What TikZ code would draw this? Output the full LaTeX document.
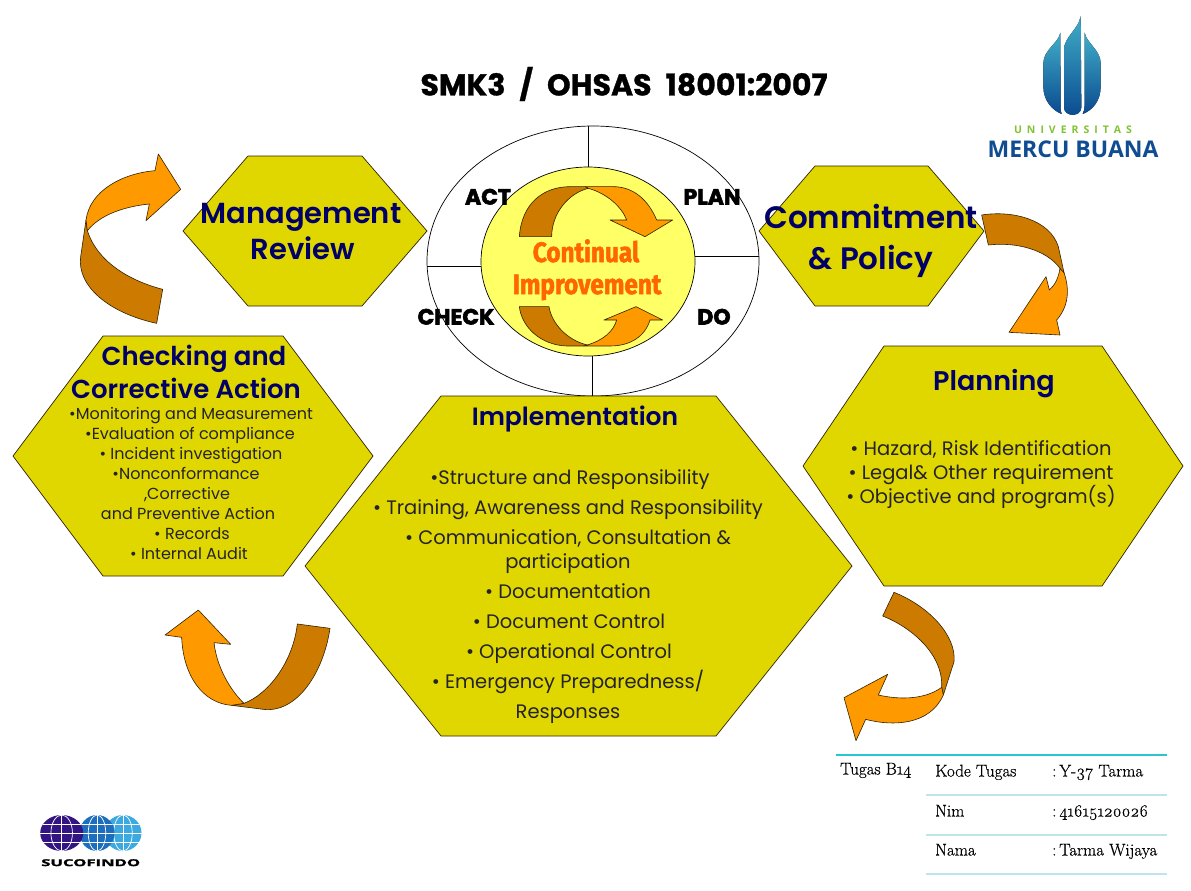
\documentclass[tikz,border=0pt]{standalone}
\usepackage{fontspec}
\usepackage{graphicx}
\setmainfont{Poppins}[BoldFont={Poppins SemiBold}]
\newfontfamily\heavyfont[FakeBold=1,WordSpace=2.2]{Poppins Bold}
\newfontfamily\labelfont[FakeBold=2.5]{Poppins}
\newfontfamily\condfont[FakeBold=2]{Fira Sans}
\newfontfamily\tabfont[Numbers=OldStyle,FakeBold=0.5]{Latin Modern Roman}
\newfontfamily\logofont{Open Sans}
\newfontfamily\sucofont[FakeBold=1.5]{Open Sans}
\newcommand{\fs}[1]{\fontsize{#1}{#1}\selectfont}
\definecolor{hexfill}{RGB}{225,215,0}
\definecolor{navytxt}{RGB}{0,0,102}
\definecolor{listtxt}{RGB}{35,35,40}
\definecolor{orlight}{RGB}{255,153,0}
\definecolor{ordark}{RGB}{204,122,0}
\definecolor{edgec}{RGB}{50,35,0}
\definecolor{innerfill}{RGB}{255,255,102}
\definecolor{impr}{RGB}{255,102,0}
\definecolor{tealrule}{RGB}{43,196,210}
\definecolor{lightrule}{RGB}{189,229,234}
\definecolor{mbtop}{RGB}{64,174,200}
\definecolor{mbbot}{RGB}{10,74,144}
\definecolor{mbtext}{RGB}{15,76,146}
\definecolor{mbgreen}{RGB}{130,195,50}
\tikzset{
  hexshape/.style={draw=edgec,fill=hexfill,line width=.7pt},
  arrowlight/.style={draw=edgec,fill=orlight,line width=.6pt,line join=round},
  arrowdark/.style={draw=edgec,fill=ordark,line width=.6pt,line join=round},
  ringline/.style={draw=black,line width=.7pt},
  headtxt/.style={text=navytxt,inner sep=0pt,text height=18pt,text depth=0pt,font=\bfseries\fs{26}},
  bigtxt/.style={text=navytxt,inner sep=0pt,text height=20pt,text depth=0pt,font=\bfseries\fs{29}},
  listtext/.style={text=listtxt,inner sep=0pt,text height=14pt,text depth=0pt,font=\fs{19.5}},
  smalltext/.style={text=listtxt,inner sep=0pt,text height=11.5pt,text depth=0pt,font=\fs{16}},
  pdcatxt/.style={text=black,inner sep=0pt,text height=15pt,text depth=0pt,font=\labelfont\bfseries\fs{22}},
  imptxt/.style={text=impr,inner sep=0pt,text height=20pt,text depth=0pt,font=\condfont\bfseries\fs{28}},
  tabtxt/.style={text=black,inner sep=0pt,anchor=west,text height=11pt,text depth=0pt,font=\tabfont\fs{17}},
  globeline/.style={draw=white,line width=.7pt},
  mbshape/.style={top color=mbtop,bottom color=mbbot,draw=none},
}
\begin{document}
\begin{tikzpicture}[x=1pt,y=-1pt]
\useasboundingbox (0,0) rectangle (1191,891);
\fill[white] (0,0) rectangle (1191,891);

% title
\node[inner sep=0pt,text=black,font=\heavyfont\fs{30}] (title) at (624,84) {SMK3 / OHSAS 18001:2007};

% ring
\draw[ringline,fill=white] (593,261) ellipse [x radius=166,y radius=135];
\coordinate (ringN) at (588,126); \coordinate (coreN) at (588,167);
\coordinate (ringE) at (759,256); \coordinate (coreE) at (695,256);
\coordinate (ringW) at (427,266); \coordinate (coreW) at (481,266);
\coordinate (ringS) at (592,396); \coordinate (coreS) at (592,356);
\draw[ringline] (ringN) -- (coreN);
\draw[ringline] (ringE) -- (coreE);
\draw[ringline] (ringW) -- (coreW);
\draw[ringline] (ringS) -- (coreS);
\draw[ringline,fill=innerfill] (588,261.5) ellipse [x radius=107,y radius=94.5];

% inner cycle arrows
\begin{scope}[shift={(400,110)},scale=0.33333]
\draw[arrowlight] (565,235) .. controls (620,250) and (665,290) .. (680,330) -- (630,330) -- (735,380) -- (818,330) -- (770,330) .. controls (745,270) and (700,230) .. (640,230) -- (555,230) -- cycle;
\draw[arrowdark] (358,380) -- (455,380) .. controls (455,310) and (505,250) .. (565,235) -- (555,230) -- (510,230) .. controls (430,230) and (365,280) .. (358,380) -- cycle;
\draw[arrowlight] (562,705) .. controls (610,690) and (640,665) .. (650,630) -- (612,630) -- (708,590) -- (788,630) -- (750,630) .. controls (735,680) and (690,708) .. (630,708) -- (550,708) -- cycle;
\draw[arrowdark] (358,590) -- (447,590) .. controls (455,640) and (500,690) .. (562,705) -- (550,708) -- (500,708) .. controls (420,705) and (365,650) .. (358,590) -- cycle;
\end{scope}
\node[imptxt] (cont) at (586,252) {\scalebox{.87}[1]{Continual}};
\node[imptxt] (impv) at (587,284) {\scalebox{.87}[1]{Improvement}};
\node[pdcatxt] (act) at (488,197) {ACT};
\node[pdcatxt] (plan) at (712,197) {PLAN};
\node[pdcatxt] (check) at (456,317) {CHECK};
\node[pdcatxt] (do) at (714,317) {DO};

% hexagons
\draw[hexshape] (183,231) -- (248,156) -- (362,156) -- (427,231) -- (362,306) -- (248,306) -- cycle;
\draw[hexshape] (759,231) -- (815,166) -- (928,166) -- (984,231) -- (928,306) -- (815,306) -- cycle;
\draw[hexshape] (803,466) -- (884,346) -- (1102,346) -- (1183,466) -- (1102,586) -- (884,586) -- cycle;
\draw[hexshape] (305,566) -- (441,396) -- (716,396) -- (852,566) -- (716,736) -- (441,736) -- cycle;
\draw[hexshape] (13,456) -- (103,336) -- (283,336) -- (373,456) -- (283,576) -- (103,576) -- cycle;

% outer arrows
\begin{scope}[shift={(60,140)},scale=0.33333]
\draw[arrowdark] (82,272) .. controls (110,360) and (200,420) .. (308,448) -- (290,550) .. controls (150,520) and (50,440) .. (62,350) -- (78,240) -- cycle;
\draw[arrowlight] (78,240) .. controls (90,150) and (190,100) .. (285,92) -- (295,42) -- (362,148) -- (258,242) -- (268,192) .. controls (190,200) and (120,225) .. (82,272) -- cycle;
\end{scope}
\begin{scope}[shift={(960,200)},scale=0.33333]
\draw[arrowlight] (312,218) .. controls (330,270) and (325,320) .. (290,360) -- (300,405) -- (147,397) -- (258,230) -- (268,270) .. controls (285,255) and (295,235) .. (300,205) -- cycle;
\draw[arrowdark] (65,45) .. controls (160,30) and (270,60) .. (295,140) -- (312,218) -- (300,205) .. controls (260,150) and (170,125) .. (85,135) -- cycle;
\end{scope}
\begin{scope}[shift={(830,580)},scale=0.33333]
\draw[arrowdark] (192,37) .. controls (300,80) and (380,170) .. (372,245) -- (340,345) -- (335,322) .. controls (340,220) and (240,140) .. (158,108) -- cycle;
\draw[arrowlight] (335,322) .. controls (290,355) and (220,362) .. (145,345) -- (173,283) -- (42,353) -- (78,482) -- (107,418) .. controls (190,440) and (300,435) .. (340,345) -- cycle;
\end{scope}
\begin{scope}[shift={(150,600)},scale=0.33333]
\draw[arrowdark] (442,72) -- (540,85) .. controls (520,220) and (440,340) .. (340,328) -- (245,316) -- (282,310) .. controls (360,280) and (430,180) .. (442,72) -- cycle;
\draw[arrowlight] (145,30) -- (242,133) -- (192,128) .. controls (200,200) and (240,270) .. (282,310) -- (245,316) .. controls (160,310) and (100,230) .. (95,112) -- (45,105) -- cycle;
\end{scope}

% hexagon texts
\node[bigtxt] (mr1) at (301,213) {Management};
\node[bigtxt] (mr2) at (303,249) {Review};
\node[bigtxt,font=\bfseries\fs{31},text height=22pt] (cp1) at (871,217) {Commitment};
\node[bigtxt,font=\bfseries\fs{31},text height=22pt] (cp2) at (871,258) {\& Policy};

\node[headtxt,font=\bfseries\fs{27}] (pl0) at (994,381) {Planning};
\node[listtext] (pl1) at (981,448) {• Hazard, Risk Identification};
\node[listtext] (pl2) at (981,472) {• Legal\& Other requirement};
\node[listtext] (pl3) at (981,496) {• Objective and program(s)};

\node[headtxt,font=\bfseries\fs{25}] (im0) at (575,416) {Implementation};
\node[listtext] (im1) at (570,477) {•Structure and Responsibility};
\node[listtext] (im2) at (568,507) {• Training, Awareness and Responsibility};
\node[listtext] (im3) at (568,537) {• Communication, Consultation \&};
\node[listtext] (im4) at (568,561) {participation};
\node[listtext] (im5) at (568,591) {• Documentation};
\node[listtext] (im6) at (569,621) {• Document Control};
\node[listtext] (im7) at (569,651) {• Operational Control};
\node[listtext] (im8) at (568,681) {• Emergency Preparedness/};
\node[listtext] (im9) at (568,711) {Responses};

\node[headtxt] (ck0) at (194,356) {Checking and};
\node[headtxt] (ck1) at (186,389) {Corrective Action};
\node[smalltext] (ck2) at (191,414) {•Monitoring and Measurement};
\node[smalltext] (ck3) at (190,434) {•Evaluation of compliance};
\node[smalltext] (ck4) at (191,454) {• Incident investigation};
\node[smalltext] (ck5) at (186,474) {•Nonconformance};
\node[smalltext] (ck6) at (187,494) {,Corrective};
\node[smalltext] (ck7) at (188,514) {and Preventive Action};
\node[smalltext] (ck8) at (192,534) {• Records};
\node[smalltext] (ck9) at (189,554) {• Internal Audit};

% table
\coordinate (tabA) at (836,755); \coordinate (tabB) at (1167,755);
\draw[tealrule,line width=2.5pt] (tabA) -- (tabB);
\foreach \yy/\nm in {795/c,835/d,874/e}{
  \coordinate (tabL\nm) at (926,\yy); \coordinate (tabR\nm) at (1167,\yy);
  \draw[lightrule,line width=2.2pt] (tabL\nm) -- (tabR\nm);
}
\node[tabtxt] (tg) at (840,769) {Tugas B14};
\node[tabtxt] (k1) at (935,771) {Kode Tugas};
\node[tabtxt] (k2) at (1052,771) {:\,Y-37 Tarma};
\node[tabtxt] (n1) at (935,811) {Nim};
\node[tabtxt] (n2) at (1052,811) {:\,41615120026};
\node[tabtxt] (m1) at (935,850) {Nama};
\node[tabtxt] (m2) at (1052,850) {:\,Tarma Wijaya};

% Mercu Buana logo
\begin{scope}[shift={(960,0)},scale=0.33333]
\fill[mbshape] (301,98) .. controls (295,130) and (250,150) .. (250,190) -- (250,260) .. controls (250,300) and (275,330) .. (305,342) .. controls (300,335) and (302,325) .. (302,315) -- cycle;
\fill[mbshape] (362,48) .. controls (355,90) and (312,110) .. (312,150) -- (312,322) .. controls (312,352) and (364,352) .. (364,322) -- cycle;
\fill[mbshape] (374,98) .. controls (380,130) and (422,150) .. (422,190) -- (422,260) .. controls (422,300) and (400,330) .. (368,342) .. controls (372,335) and (374,325) .. (374,315) -- cycle;
\end{scope}
\node[inner sep=0pt,text=mbgreen,font=\logofont\bfseries\fs{10.5}] (uni) at (1073,130) {U\hspace{5pt}N\hspace{5pt}I\hspace{5pt}V\hspace{5pt}E\hspace{5pt}R\hspace{5pt}S\hspace{5pt}I\hspace{5pt}T\hspace{5pt}A\hspace{5pt}S};
\node[inner sep=0pt,text=mbtext,font=\logofont\bfseries\fs{23}] (mb) at (1073,149) {MERCU BUANA};

% Sucofindo logo
\foreach \cx/\rx/\col in {123/18.5/{rgb,255:red,60;green,170;blue,225},97/17.5/{rgb,255:red,30;green,110;blue,190},61.7/21.5/{rgb,255:red,50;green,20;blue,130}}{
  \fill[fill=\col] (\cx,833) ellipse [x radius=\rx,y radius=18];
  \draw[globeline] (\cx,815) -- (\cx,851);
  \draw[globeline] (\cx-\rx,833) -- (\cx+\rx,833);
  \draw[globeline] (\cx,833) ellipse [x radius=0.5*\rx,y radius=18];
  \draw[globeline] (\cx-0.88*\rx,824) -- (\cx+0.88*\rx,824);
  \draw[globeline] (\cx-0.88*\rx,842) -- (\cx+0.88*\rx,842);
}
\node[inner sep=0pt,text=black,font=\sucofont\bfseries\fs{9.5}] (suco) at (90.7,862.7) {\scalebox{1.75}[1]{SUCOFINDO}};
\end{tikzpicture}
\end{document}
